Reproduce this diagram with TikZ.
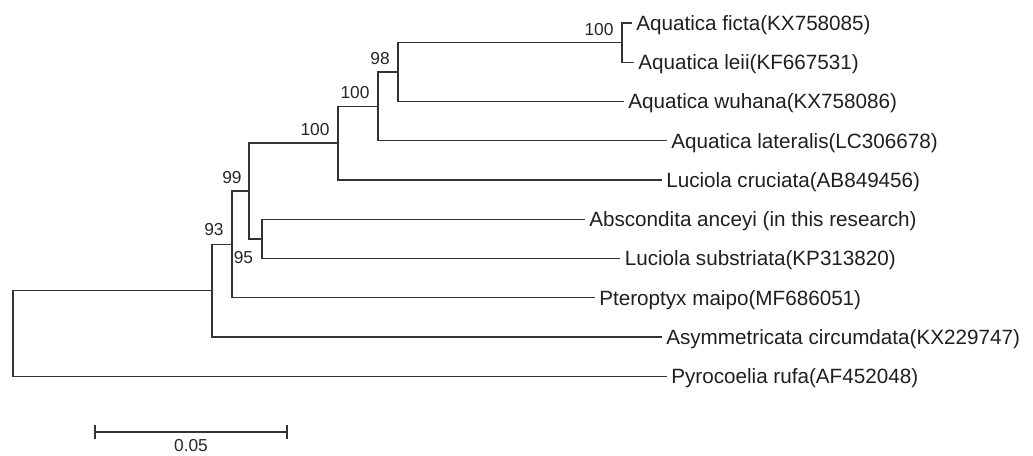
\documentclass[tikz,border=0pt]{standalone}
\usepackage{fontspec}
\setmainfont{Liberation Sans}
\begin{document}
\begin{tikzpicture}[x=0.75pt,y=-0.75pt,
  branch/.style={draw=black!80, line width=1.1pt, line cap=rect},
  tip/.style={anchor=west, inner xsep=3.75pt, inner ysep=0pt,
    text=black!88, font=\fontsize{15.5}{18}\selectfont,
    text height=11.1pt, text depth=0pt},
  boot/.style={inner sep=0pt, text=black!85,
    font=\fontsize{13}{15}\selectfont, text height=9.3pt, text depth=0pt}]
\useasboundingbox (0,0) rectangle (1033,455);

% internal nodes of the tree
\coordinate (root) at (13,333.5);
\coordinate (n212) at (212,290.7);
\coordinate (n232) at (232,244.4);
\coordinate (n249) at (249,191);
\coordinate (n262) at (262,238.9);
\coordinate (n338) at (338,143.2);
\coordinate (n378) at (378,106.4);
\coordinate (n398) at (398,72);
\coordinate (n622) at (622,42.6);

% terminal taxa
\node[tip] (ficta) at (631,23)     {Aquatica ficta(KX758085)};
\node[tip] (leii)  at (633,62.25)  {Aquatica leii(KF667531)};
\node[tip] (wuh)   at (623,101.5)  {Aquatica wuhana(KX758086)};
\node[tip] (lat)   at (666,140.75) {Aquatica lateralis(LC306678)};
\node[tip] (cru)   at (661,180)    {Luciola cruciata(AB849456)};
\node[tip] (abs)   at (584,219.25) {Abscondita anceyi (in this research)};
\node[tip] (sub)   at (619.5,258.5){Luciola substriata(KP313820)};
\node[tip] (pte)   at (594,297.75) {Pteroptyx maipo(MF686051)};
\node[tip] (asy)   at (661,337)    {Asymmetricata circumdata(KX229747)};
\node[tip] (pyr)   at (666,376.25) {Pyrocoelia rufa(AF452048)};

% branches
\draw[branch] (root) |- (n212);
\draw[branch] (root) |- (pyr.west);
\draw[branch] (n212) |- (n232);
\draw[branch] (n212) |- (asy.west);
\draw[branch] (n232) |- (n249);
\draw[branch] (n232) |- (pte.west);
\draw[branch] (n249) |- (n338);
\draw[branch] (n249) |- (n262);
\draw[branch] (n262) |- (abs.west);
\draw[branch] (n262) |- (sub.west);
\draw[branch] (n338) |- (n378);
\draw[branch] (n338) |- (cru.west);
\draw[branch] (n378) |- (n398);
\draw[branch] (n378) |- (lat.west);
\draw[branch] (n398) |- (n622);
\draw[branch] (n398) |- (wuh.west);
\draw[branch] (n622) |- (ficta.west);
\draw[branch] (n622) |- (leii.west);

% bootstrap support values
\node[boot] (b622) at (599,29)    {100};
\node[boot] (b398) at (380,58.5)  {98};
\node[boot] (b378) at (355,92.5)  {100};
\node[boot] (b338) at (315,129.5) {100};
\node[boot] (b249) at (232,177)   {99};
\node[boot] (b232) at (214,229)   {93};
\node[boot] (b262) at (243.5,257) {95};

% scale bar
\coordinate (sbL) at (95,432);
\coordinate (sbR) at (287,432);
\draw[branch] (sbL) -- (sbR);
\draw[branch] (sbL) ++(0,-6.5) -- ++(0,13);
\draw[branch] (sbR) ++(0,-6.5) -- ++(0,13);
\node[boot] (sblab) at (191,445) {0.05};
\end{tikzpicture}
\end{document}
